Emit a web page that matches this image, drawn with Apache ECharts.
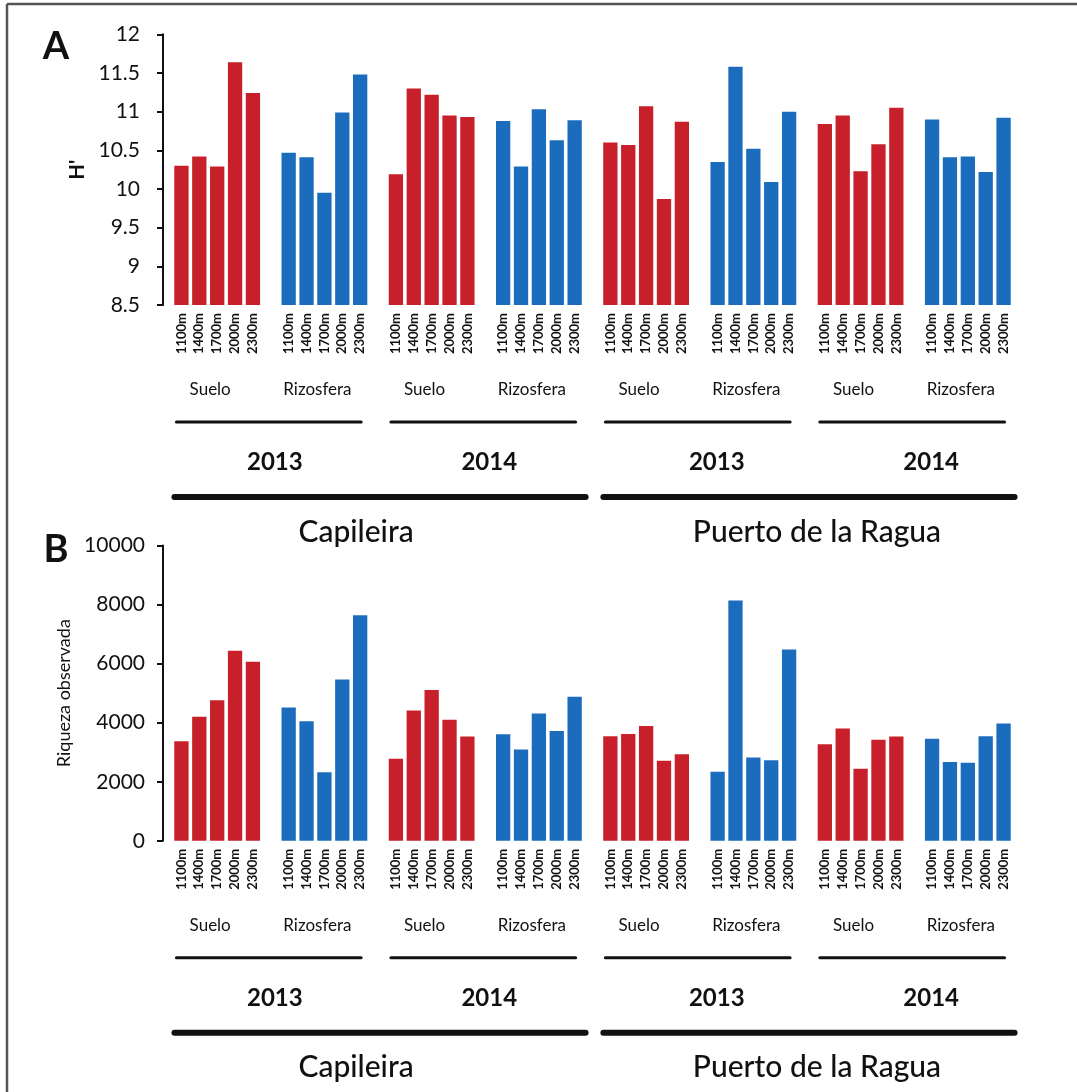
<!DOCTYPE html>
<html>
<head>
<meta charset="utf-8">
<script src="https://cdn.jsdelivr.net/npm/echarts/dist/echarts.min.js"></script>
<style>
  html, body { margin: 0; padding: 0; background: #fff; }
  #chart { width: 1077px; height: 1092px; }
</style>
</head>
<body>
<div id="chart"></div>
<script>
// Category levels
const altitudes = ['1100m', '1400m', '1700m', '2000m', '2300m'];
const compartments = ['Suelo', 'Rizosfera'];
const years = ['2013', '2014'];
const sites = ['Capileira', 'Puerto de la Ragua'];

// A: Shannon diversity H' (per altitude)
const hCap2013Suelo = [10.30, 10.42, 10.29, 11.64, 11.24];
const hCap2013Rizo  = [10.47, 10.41, 9.95, 10.99, 11.48];
const hCap2014Suelo = [10.19, 11.30, 11.22, 10.95, 10.93];
const hCap2014Rizo  = [10.88, 10.29, 11.03, 10.63, 10.89];
const hPdr2013Suelo = [10.60, 10.57, 11.07, 9.87, 10.87];
const hPdr2013Rizo  = [10.35, 11.58, 10.52, 10.09, 11.00];
const hPdr2014Suelo = [10.84, 10.95, 10.23, 10.58, 11.05];
const hPdr2014Rizo  = [10.90, 10.41, 10.42, 10.22, 10.92];

// B: observed richness (per altitude)
const rCap2013Suelo = [3370, 4200, 4760, 6440, 6060];
const rCap2013Rizo  = [4510, 4050, 2320, 5460, 7640];
const rCap2014Suelo = [2780, 4410, 5110, 4100, 3530];
const rCap2014Rizo  = [3610, 3090, 4310, 3720, 4880];
const rPdr2013Suelo = [3540, 3620, 3890, 2710, 2930];
const rPdr2013Rizo  = [2340, 8140, 2820, 2730, 6480];
const rPdr2014Suelo = [3270, 3800, 2440, 3420, 3530];
const rPdr2014Rizo  = [3460, 2670, 2640, 3540, 3970];

// Y axis ranges [min, max, step]
const hAxis = [8.5, 12, 0.5];
const rAxis = [0, 10000, 2000];

// Group order along the x axis: site > year > compartment
const hGroups = [hCap2013Suelo, hCap2013Rizo, hCap2014Suelo, hCap2014Rizo,
                 hPdr2013Suelo, hPdr2013Rizo, hPdr2014Suelo, hPdr2014Rizo];
const rGroups = [rCap2013Suelo, rCap2013Rizo, rCap2014Suelo, rCap2014Rizo,
                 rPdr2013Suelo, rPdr2013Rizo, rPdr2014Suelo, rPdr2014Rizo];

const RED = '#c8202a';
const BLUE = '#1b6cbd';
const FONT = 'Lato, "Open Sans", sans-serif';
const SLOTS = altitudes.length + 1;   // 5 bars + 1 empty slot between groups

// Small horizontal nudges for the year / site captions of each site block
const yearNudge = [4, 17];
const siteNudge = [-22, 10];

// Build slot categories (with empty spacer slots) and the two bar series
const slotLabels = [];
const groupCount = hGroups.length;
for (let g = 0; g < groupCount; g++) {
  altitudes.forEach(a => slotLabels.push(a));
  if (g < groupCount - 1) slotLabels.push('');
}
function splitSeries(groups) {
  const suelo = [], rizo = [];
  groups.forEach((vals, g) => {
    vals.forEach(v => {
      suelo.push(g % 2 === 0 ? v : '-');
      rizo.push(g % 2 === 1 ? v : '-');
    });
    if (g < groups.length - 1) { suelo.push('-'); rizo.push('-'); }
  });
  return [suelo, rizo];
}
const [hSuelo, hRizo] = splitSeries(hGroups);
const [rSuelo, rRizo] = splitSeries(rGroups);

const grids = [
  { left: 172.5, width: 840, top: 34.3, height: 270.7 },
  { left: 172.5, width: 840, top: 545.5, height: 295.3 }
];

function xAxisFor(i) {
  return {
    type: 'category', gridIndex: i, data: slotLabels,
    axisLine: { show: false }, axisTick: { show: false },
    axisLabel: { interval: 0, rotate: 90, margin: 8, fontSize: 13, fontWeight: 'bold',
                 color: '#111', fontFamily: FONT }
  };
}
function yAxisFor(i, range, name, nameGap, nameSize, nameWeight, labelSize, labelMargin) {
  return {
    type: 'value', gridIndex: i, min: range[0], max: range[1], interval: range[2],
    offset: 9.5,
    name: name, nameLocation: 'middle', nameGap: nameGap,
    nameTextStyle: { fontSize: nameSize, fontWeight: nameWeight, color: '#111', fontFamily: FONT },
    axisLine: { show: true, lineStyle: { color: '#111', width: 2 } },
    axisTick: { show: true, length: 6, lineStyle: { color: '#111', width: 2 } },
    axisLabel: { margin: labelMargin, fontSize: labelSize, color: '#111', fontFamily: FONT,
                 formatter: v => String(v) },
    splitLine: { show: false }
  };
}
function barSeries(name, data, color, i) {
  return {
    name: name, type: 'bar', xAxisIndex: i, yAxisIndex: i, data: data,
    barWidth: 14.3, barGap: '-100%', itemStyle: { color: color }, silent: true
  };
}

const chart = echarts.init(document.getElementById('chart'), null, { renderer: 'canvas' });
chart.setOption({
  animation: false,
  backgroundColor: '#ffffff',
  grid: grids,
  xAxis: [xAxisFor(0), xAxisFor(1)],
  yAxis: [
    yAxisFor(0, hAxis, "H'", 74, 20, 'bold', 21, 23),
    yAxisFor(1, rAxis, 'Riqueza observada', 88, 18, 'normal', 21, 18)
  ],
  series: [
    barSeries('Suelo', hSuelo, RED, 0),
    barSeries('Rizosfera', hRizo, BLUE, 0),
    barSeries('Suelo', rSuelo, RED, 1),
    barSeries('Rizosfera', rRizo, BLUE, 1)
  ]
});

// Hierarchical labels under each panel: compartment, year and site, with bracket lines
function textEl(text, x, y, size, weight) {
  return { type: 'text', x: x, y: y, silent: true,
           style: { text: text, fontSize: size, fontWeight: weight, fontFamily: FONT,
                    fill: '#111', align: 'center', verticalAlign: 'middle' } };
}
function lineEl(x1, x2, y, w) {
  return { type: 'line', silent: true, shape: { x1: x1, y1: y, x2: x2, y2: y },
           style: { stroke: '#111', lineWidth: w, lineCap: 'round' } };
}
function hierarchy(axisIndex, range) {
  const els = [];
  const px = idx => chart.convertToPixel({ xAxisIndex: axisIndex }, idx);
  const base = chart.convertToPixel({ yAxisIndex: axisIndex }, range[0]);
  for (let g = 0; g < groupCount; g++) {
    els.push(textEl(compartments[g % 2], px(g * SLOTS + 2) - 7, base + 85, 17, 'normal'));
  }
  const perYear = 2 * SLOTS;
  for (let k = 0; k < groupCount / 2; k++) {
    const first = k * perYear, last = first + perYear - 2;
    const site = Math.floor(k / 2);
    els.push(lineEl(px(first) - 5, px(last) + 1, base + 117, 3));
    els.push(textEl(years[k % 2], px(first + 5) + yearNudge[site], base + 157, 24, 'bold'));
  }
  const perSite = 4 * SLOTS;
  for (let s = 0; s < sites.length; s++) {
    const first = s * perSite, last = first + perSite - 2;
    els.push(lineEl(px(first) - 7, px(last) + 11, base + 192, 6));
    els.push(textEl(sites[s], px(first + 11) + siteNudge[s], base + 227, 30, '500'));
  }
  return els;
}

const yA = chart.convertToPixel({ yAxisIndex: 0 }, hAxis[1]);
const yB = chart.convertToPixel({ yAxisIndex: 1 }, rAxis[1]);
const graphics = [].concat(
  hierarchy(0, hAxis),
  hierarchy(1, rAxis),
  [
    { type: 'text', x: 56, y: yA + 12, silent: true,
      style: { text: 'A', fontSize: 38, fontWeight: 'bold', fontFamily: FONT, fill: '#111',
               align: 'center', verticalAlign: 'middle' } },
    { type: 'text', x: 56, y: yB + 4, silent: true,
      style: { text: 'B', fontSize: 38, fontWeight: 'bold', fontFamily: FONT, fill: '#111',
               align: 'center', verticalAlign: 'middle' } },
    // Frame
    { type: 'line', silent: true, shape: { x1: 7, y1: 4, x2: 1077, y2: 4 },
      style: { stroke: '#555', lineWidth: 2.5 } },
    { type: 'line', silent: true, shape: { x1: 7, y1: 4, x2: 7, y2: 1092 },
      style: { stroke: '#555', lineWidth: 2.5 } }
  ]
);
chart.setOption({ graphic: graphics });
</script>
</body>
</html>
